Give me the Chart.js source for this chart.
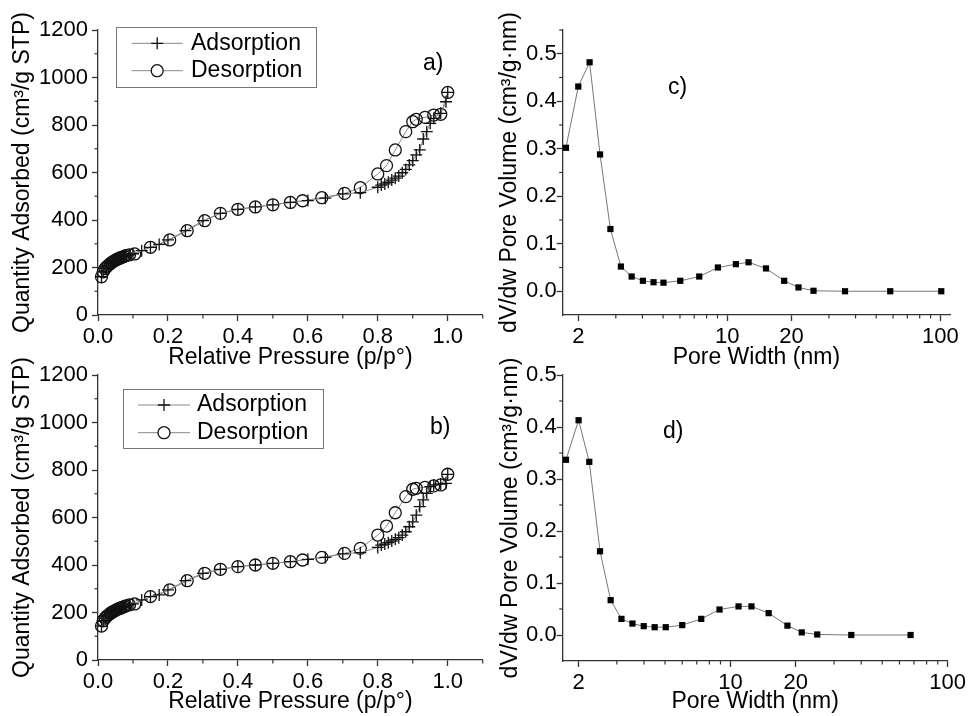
<!DOCTYPE html>
<html>
<head>
<meta charset="utf-8">
<script src="https://cdn.jsdelivr.net/npm/chart.js@4.4.1/dist/chart.umd.min.js"></script>
<style>
  body { margin: 0; background: #fff; }
  #wrap { position: relative; width: 969px; height: 716px; overflow: hidden; }
  canvas { position: absolute; }
</style>
</head>
<body>
<div id="wrap">
  <canvas id="chartA" width="490" height="372" style="left:0;top:0"></canvas>
  <canvas id="chartB" width="490" height="371" style="left:0;top:345px"></canvas>
  <canvas id="chartC" width="489" height="372" style="left:480px;top:0"></canvas>
  <canvas id="chartD" width="489" height="371" style="left:480px;top:345px"></canvas>
</div>
<script>
// Isotherm a)
const pAdsA = [0.01, 0.015, 0.02, 0.025, 0.03, 0.035, 0.04, 0.045, 0.05, 0.055, 0.06, 0.065, 0.07, 0.075, 0.08, 0.09, 0.1,
  0.125, 0.15, 0.175, 0.2, 0.25, 0.3, 0.35, 0.4, 0.45, 0.5, 0.55, 0.6, 0.65, 0.7, 0.75,
  0.8, 0.81, 0.82, 0.83, 0.84, 0.85, 0.86, 0.87, 0.88, 0.89, 0.9, 0.91, 0.92, 0.93, 0.94, 0.95, 0.96, 0.98, 0.995, 1.0];
const qAdsA = [161, 182, 195, 203, 210, 216, 222, 227, 231, 235, 238, 241, 244, 247, 250, 253, 258,
  271, 285, 297, 316, 355, 397, 428, 445, 455, 464, 474, 482, 492, 510, 515,
  538, 547, 552, 559, 568, 576, 585, 599, 613, 632, 650, 674, 695, 741, 772, 807, 828, 849, 898, 937];
const pDesA = [1.0, 0.98, 0.96, 0.935, 0.91, 0.9, 0.88, 0.85, 0.825, 0.8, 0.75, 0.705, 0.64, 0.585, 0.55, 0.5, 0.45, 0.4, 0.35, 0.305,
  0.255, 0.205, 0.15, 0.105, 0.09, 0.08, 0.075, 0.07, 0.065, 0.06, 0.055, 0.05, 0.045, 0.04, 0.035, 0.03, 0.025, 0.02, 0.015, 0.01];
const qDesA = [937, 845, 842, 832, 824, 814, 772, 695, 629, 594, 536, 512, 494, 481, 474, 464, 455, 445, 428, 397,
  355, 316, 285, 257, 253, 250, 247, 244, 241, 238, 235, 231, 227, 222, 216, 210, 203, 195, 182, 161];

// Isotherm b)
const pAdsB = pAdsA;
const qAdsB = [143, 165, 176, 184, 190, 196, 201, 205, 209, 213, 216, 219, 222, 225, 228, 232, 236,
  253, 267, 274, 295, 334, 365, 382, 393, 400, 407, 414, 424, 432, 447, 452,
  474, 484, 488, 494, 501, 508, 515, 526, 540, 561, 582, 610, 646, 674, 702, 730, 737, 741, 744, 782];
const pDesB = pDesA;
const qDesB = [782, 737, 733, 727, 723, 719, 688, 620, 564, 526, 470, 449, 432, 421, 414, 407, 400, 393, 382, 365,
  334, 295, 267, 236, 232, 228, 225, 222, 219, 216, 213, 209, 205, 201, 196, 190, 184, 176, 165, 143];

// Pore size distributions c) and d)
const widthC = [1.75, 2.0, 2.26, 2.53, 2.83, 3.17, 3.56, 4.02, 4.51, 5.02, 6.02, 7.39, 9.04, 10.98, 12.59, 15.2, 18.5, 21.6, 25.4, 35.7, 58.2, 101];
const dvC = [0.302, 0.431, 0.482, 0.288, 0.131, 0.052, 0.031, 0.022, 0.019, 0.018, 0.022, 0.031, 0.050, 0.057, 0.061, 0.048, 0.022, 0.008, 0.001, 0.0, 0.0, 0.0];
const widthD = [1.75, 2.0, 2.24, 2.51, 2.81, 3.15, 3.54, 3.99, 4.48, 5.04, 6.0, 7.34, 8.91, 10.9, 12.5, 15.0, 18.3, 21.3, 25.1, 36.0, 67.5];
const dvD = [0.337, 0.413, 0.333, 0.161, 0.067, 0.031, 0.022, 0.017, 0.015, 0.015, 0.019, 0.031, 0.049, 0.055, 0.055, 0.042, 0.018, 0.005, 0.001, 0.0, 0.0];

// Tick labels and minor tick positions
const pressureTicks = [0, 0.2, 0.4, 0.6, 0.8, 1.0];
const pressureMinor = [0.1, 0.3, 0.5, 0.7, 0.9, 1.1];
const quantityTicks = [0, 200, 400, 600, 800, 1000, 1200];
const quantityMinor = [100, 300, 500, 700, 900, 1100];
const widthTicks = [2, 10, 20, 100];
const widthMinor = [3, 4, 5, 6, 7, 8, 9, 30, 40, 50, 60, 70, 80, 90];
const dvTicks = [0, 0.1, 0.2, 0.3, 0.4, 0.5];
const dvMinorC = [0.05, 0.15, 0.25, 0.35, 0.45, 0.55];
const dvMinorD = [0.05, 0.15, 0.25, 0.35, 0.45];

const FONT = '"Liberation Sans", Arial, sans-serif';
const AXIS = '#333';
Chart.defaults.font.family = FONT;
Chart.defaults.color = '#000';

const toPoints = (xs, ys) => xs.map((x, i) => ({x: x, y: ys[i]}));

// draws minor ticks, panel letter and the boxed legend
const decor = {
  id: 'decor',
  afterDraw(chart, args, o) {
    const ctx = chart.ctx;
    ctx.save();
    ctx.strokeStyle = AXIS;
    ctx.lineWidth = 1.2;
    ['x', 'y'].forEach(id => {
      const s = chart.scales[id];
      (o.minor[id] || []).forEach(v => {
        const p = s.getPixelForValue(v);
        ctx.beginPath();
        if (id === 'x') { ctx.moveTo(p, s.top); ctx.lineTo(p, s.top + 3.5); }
        else { ctx.moveTo(s.right, p); ctx.lineTo(s.right - 3.5, p); }
        ctx.stroke();
      });
    });

    ctx.fillStyle = '#000';
    ctx.font = '23px ' + FONT;
    ctx.textBaseline = 'middle';
    ctx.textAlign = 'left';
    ctx.fillText(o.label[0], o.label[1], o.label[2]);

    const lg = o.legend;
    if (lg) {
      ctx.strokeStyle = '#777';
      ctx.lineWidth = 1;
      ctx.strokeRect(lg.box[0] + 0.5, lg.box[1] + 0.5, lg.box[2], lg.box[3]);
      chart.data.datasets.forEach((ds, i) => {
        const y = lg.rows[i];
        const mx = (lg.line[0] + lg.line[1]) / 2;
        ctx.strokeStyle = '#888';
        ctx.lineWidth = 1;
        ctx.beginPath();
        ctx.moveTo(lg.line[0], y); ctx.lineTo(lg.line[1], y);
        ctx.stroke();
        ctx.strokeStyle = '#111';
        ctx.lineWidth = 1.3;
        ctx.beginPath();
        if (ds.pointStyle === 'cross') {
          ctx.moveTo(mx - 6, y); ctx.lineTo(mx + 6, y);
          ctx.moveTo(mx, y - 6); ctx.lineTo(mx, y + 6);
        } else {
          ctx.fillStyle = '#fff';
          ctx.arc(mx, y, 6, 0, Math.PI * 2);
          ctx.fill();
        }
        ctx.stroke();
        ctx.fillStyle = '#000';
        ctx.fillText(ds.label, lg.text, y);
      });
    }
    ctx.restore();
  }
};

function xAxis(type, min, max, ticks, fmt, height, title) {
  return {
    type: type, min: min, max: max,
    afterBuildTicks: s => { s.ticks = ticks.map(v => ({value: v})); },
    afterFit: s => { s.height = height; },
    border: {display: true, color: AXIS, width: 1.3},
    grid: {drawOnChartArea: false, drawTicks: true, tickLength: 6, tickColor: AXIS, tickWidth: 1.3},
    ticks: {autoSkip: false, maxRotation: 0, padding: 3, font: {size: 22}, color: '#000', callback: fmt},
    title: {display: true, text: title, font: {size: 23}, color: '#000', padding: {top: 0, bottom: 1}}
  };
}

function yAxis(min, max, ticks, fmt, width, tickPad, titlePad, title) {
  return {
    type: 'linear', min: min, max: max,
    afterBuildTicks: s => { s.ticks = ticks.map(v => ({value: v})); },
    afterFit: s => { s.width = width; },
    border: {display: true, color: AXIS, width: 1.3},
    grid: {drawOnChartArea: false, drawTicks: true, tickLength: 6, tickColor: AXIS, tickWidth: 1.3},
    ticks: {autoSkip: false, padding: tickPad, font: {size: 22}, color: '#000', callback: fmt},
    title: {display: true, text: title, font: {size: 23}, color: '#000', padding: {top: titlePad, bottom: 0}}
  };
}

const fmt1 = v => Number(v).toFixed(1);
const fmt0 = v => String(v);

function isotherm(id, ads, des, height, label, legend) {
  return new Chart(document.getElementById(id), {
    type: 'scatter',
    data: {
      datasets: [{
        label: 'Adsorption',
        data: ads,
        showLine: true,
        pointStyle: 'cross',
        pointRadius: 6,
        pointBorderWidth: 1.3,
        pointBorderColor: '#111',
        borderColor: '#8a8a8a',
        borderWidth: 1,
        backgroundColor: 'rgba(0,0,0,0)'
      }, {
        label: 'Desorption',
        data: des,
        showLine: true,
        pointStyle: 'circle',
        pointRadius: 6,
        pointBorderWidth: 1.3,
        pointBorderColor: '#111',
        pointBackgroundColor: 'rgba(0,0,0,0)',
        borderColor: '#8a8a8a',
        borderWidth: 1,
        backgroundColor: 'rgba(0,0,0,0)'
      }]
    },
    options: {
      responsive: false,
      animation: false,
      events: [],
      clip: false,
      layout: {padding: {left: 0, top: 30, right: 5, bottom: 0}},
      scales: {
        x: xAxis('linear', 0, 1.1, pressureTicks, fmt1, height, 'Relative Pressure (p/p°)'),
        y: yAxis(0, 1200, quantityTicks, fmt0, 98, 4, 9, 'Quantity Adsorbed (cm³/g STP)')
      },
      plugins: {
        legend: {display: false},
        tooltip: {enabled: false},
        decor: {minor: {x: pressureMinor, y: quantityMinor}, label: label, legend: legend}
      }
    },
    plugins: [decor]
  });
}

function poreChart(id, pts, xMax, yMax, yMinor, height, rightPad, titlePad, label) {
  return new Chart(document.getElementById(id), {
    type: 'scatter',
    data: {
      datasets: [{
        label: 'dV/dw',
        data: pts,
        showLine: true,
        pointStyle: 'rect',
        pointRadius: 4.4,
        pointBorderWidth: 0,
        pointBackgroundColor: '#000',
        borderColor: '#777',
        borderWidth: 1
      }]
    },
    options: {
      responsive: false,
      animation: false,
      events: [],
      clip: false,
      layout: {padding: {left: 0, top: 30, right: rightPad, bottom: 0}},
      scales: {
        x: xAxis('logarithmic', 1.69, xMax, widthTicks, fmt0, height, 'Pore Width (nm)'),
        y: yAxis(-0.05, yMax, dvTicks, fmt1, 82.7, 0, titlePad, 'dV/dw Pore Volume (cm³/g·nm)')
      },
      plugins: {
        legend: {display: false},
        tooltip: {enabled: false},
        decor: {minor: {x: widthMinor, y: yMinor}, label: label}
      }
    },
    plugins: [decor]
  });
}

isotherm('chartA', toPoints(pAdsA, qAdsA), toPoints(pDesA, qDesA), 57, ['a)', 423, 64],
  {box: [116, 27, 200, 60], rows: [43.3, 70.7], line: [131.7, 182.7], text: 191});
isotherm('chartB', toPoints(pAdsB, qAdsB), toPoints(pDesB, qDesB), 56, ['b)', 430, 83],
  {box: [123, 44, 200, 59], rows: [60, 87.7], line: [138, 190], text: 197});
poreChart('chartC', toPoints(widthC, dvC), 111, 0.55, dvMinorC, 57, 19, 16, ['c)', 188, 87.5]);
poreChart('chartD', toPoints(widthD, dvD), 100, 0.5, dvMinorD, 55, 19.7, 17, ['d)', 183, 87]);
</script>
</body>
</html>
